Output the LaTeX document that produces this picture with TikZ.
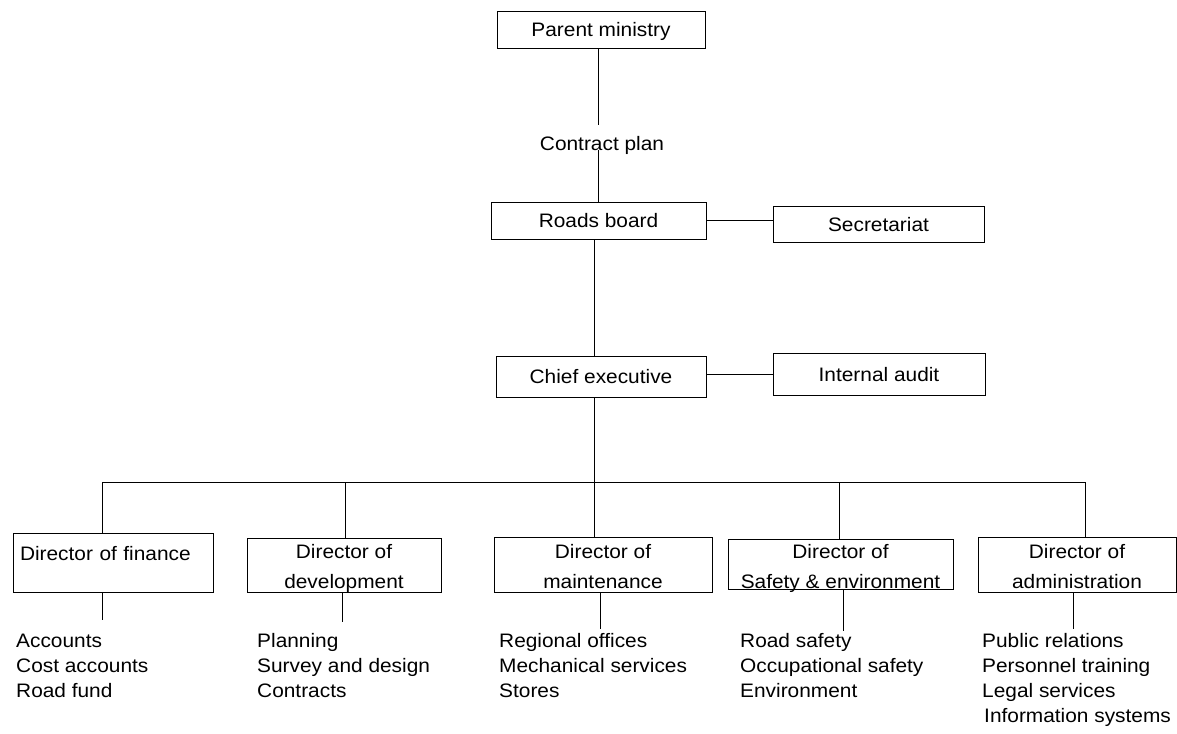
\documentclass[tikz,border=0pt]{standalone}
\usepackage{fontspec}
\setmainfont[FakeStretch=1.07]{Liberation Sans}
\usetikzlibrary{positioning}

\tikzset{
  box/.style={draw, line width=0.9pt, inner sep=0pt, text height=14pt, text depth=0pt},
  dirbox/.style={box, anchor=north, align=center},
  list/.style={anchor=base west, align=left, inner sep=0pt,
    font=\fontsize{19.5}{25}\selectfont},
  link/.style={line width=0.9pt}
}

\begin{document}
\begin{tikzpicture}[x=1pt, y=-1pt, font=\fontsize{19.5}{30}\selectfont]
	    \useasboundingbox (0,0) rectangle (1177,733);
	    % top of the chart
	    \node[box, minimum width=208pt, minimum height=37pt] (pm) at (601,29.5) {Parent ministry};
	    \node[anchor=base, inner xsep=0pt, inner ysep=11pt] (cp) at (602,150) {Contract plan};
	    \node[box, minimum width=215pt, minimum height=37pt] (rb) at (598.5,220.5) {Roads board};
	    \node[box, minimum width=211pt, minimum height=36pt] (sec) at (878.5,224) {Secretariat};
	    \node[box, minimum width=210pt, minimum height=41pt] (ce) at (601,376.5) {Chief executive};
	    \node[box, minimum width=212pt, minimum height=42pt] (ia) at (879,374) {Internal audit};
	    
	    % directors
	    \node[dirbox, align=left, text width=186pt, inner xsep=7pt, text height=27pt, text depth=32pt] (fin) at (113,533) {Director of finance};
	    \node[dirbox, minimum width=194pt, text height=50pt, text depth=4pt] (dev) at (344,538) {Director of\\development};
	    \node[dirbox, minimum width=218pt, text height=51pt, text depth=4pt] (mnt) at (603,537) {Director of\\maintenance};
	    \node[dirbox, minimum width=225pt, text height=49pt, text depth=1pt] (saf) at (840.5,539) {Director of\\Safety \& environment};
	    \node[dirbox, minimum width=198pt, text height=51pt, text depth=4pt] (adm) at (1077,537) {Director of\\administration};
	    
	    % sections
	    \node[list] (finL) at (16,697) {Accounts\\Cost accounts\\Road fund};
	    \node[list] (devL) at (257,697) {Planning\\Survey and design\\Contracts};
	    \node[list] (mntL) at (499,697) {Regional offices\\Mechanical services\\Stores};
	    \node[list] (safL) at (740,697) {Road safety\\Occupational safety\\Environment};
	    \node[list] (admL) at (982,722) {Public relations\\Personnel training\\Legal services\\\hspace{2pt}Information systems};
	    
	    \coordinate (top) at (598,0);
	    \coordinate (spine) at (594,482);
	    \coordinate (finB) at (102,482);
	    \coordinate (devB) at (345,482);
	    \coordinate (safB) at (839,482);
	    \coordinate (admB) at (1085,482);
	    \coordinate (finE) at (102,620);
	    \coordinate (devE) at (342,622);
	    \coordinate (mntE) at (600,629);
	    \coordinate (safE) at (843,631);
	    \coordinate (admE) at (1073,629);
	    
	    \draw[link] (pm.south -| top) -- (cp.north -| top);
	    \draw[link] (cp.base -| top) -- (rb.north -| top);
	    \draw[link] (rb.east) -- (rb.east -| sec.west);
	    \draw[link] (rb.south -| spine) -- (ce.north -| spine);
	    \draw[link] (ia.west -| ce.east) -- (ia.west);
	    \draw[link] (ce.south -| spine) -- (spine);
	    \draw[link] (finB) -- (admB -| 1086,0);
	    
	    \draw[link] (finB) -- (finB |- fin.north);
	    \draw[link] (devB) -- (devB |- dev.north);
	    \draw[link] (spine) -- (spine |- mnt.north);
	    \draw[link] (safB) -- (safB |- saf.north);
	    \draw[link] (admB) -- (admB |- adm.north);
	    
	    \draw[link] (fin.south -| finE) -- (finE);
	    \draw[link] (dev.south -| devE) -- (devE);
	    \draw[link] (mnt.south -| mntE) -- (mntE);
	    \draw[link] (saf.south -| safE) -- (safE);
	    \draw[link] (adm.south -| admE) -- (admE);
\end{tikzpicture}
\end{document}
